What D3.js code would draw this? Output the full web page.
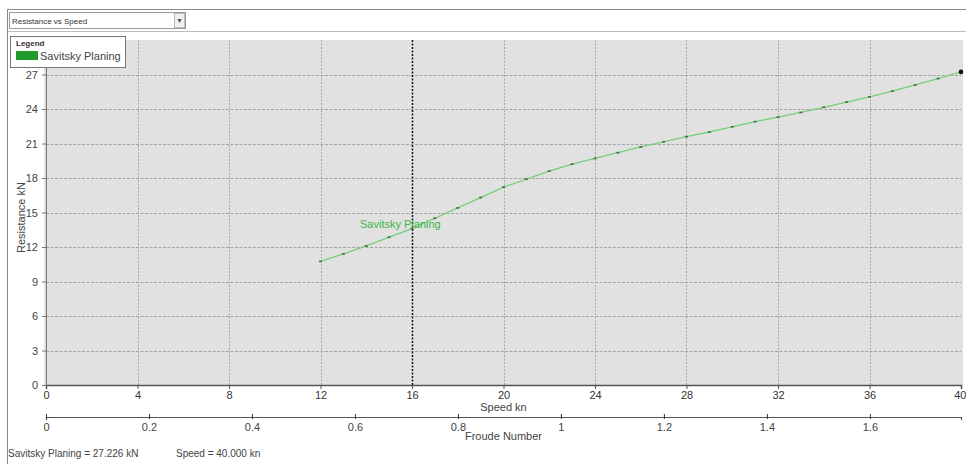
<!DOCTYPE html>
<html><head><meta charset="utf-8">
<script src="https://cdn.jsdelivr.net/npm/d3@7"></script>
<style>
body{margin:0;background:#fff;}
text{font-family:"Liberation Sans",Arial,sans-serif;}
</style></head>
<body><svg id="c" width="966" height="464"></svg>
<script>
const speeds = [12,13,14,15,16,17,18,19,20,21,22,23,24,25,26,27,28,29,30,31,32,33,34,35,36,37,38,39,40];
const resistance = [10.75,11.4,12.1,12.85,13.6,14.5,15.4,16.3,17.2,17.9,18.6,19.2,19.7,20.2,20.7,21.15,21.6,22.0,22.45,22.9,23.3,23.7,24.15,24.6,25.05,25.55,26.1,26.65,27.226];
const xTicks = [0,4,8,12,16,20,24,28,32,36,40];
const yTicks = [0,3,6,9,12,15,18,21,24,27];
const froudeTicks = [0,0.2,0.4,0.6,0.8,1,1.2,1.4,1.6];
const froudeMax = 1.777;
const seriesName = "Savitsky Planing";
const cursorSpeed = 16;

const svg = d3.select("#c");
const L=46, R=961, T=40, B=385;
const x = d3.scaleLinear().domain([0,40]).range([L,R]);
const y = d3.scaleLinear().domain([0,30]).range([B,T]);
const xf = d3.scaleLinear().domain([0,froudeMax]).range([L,R]);

// frame
svg.append("rect").attr("x",7.5).attr("y",9.5).attr("width",965).attr("height",460).attr("fill","#fff").attr("stroke","#888");
svg.append("line").attr("x1",8).attr("x2",966).attr("y1",31.5).attr("y2",31.5).attr("stroke","#bbb");
// dropdown
svg.append("rect").attr("x",9.5).attr("y",12.5).attr("width",176).attr("height",16).attr("fill","#fff").attr("stroke","#999");
svg.append("rect").attr("x",174.5).attr("y",13.5).attr("width",10).attr("height",14).attr("fill","#f0f0f0").attr("stroke","#bbb");
svg.append("text").attr("x",179.5).attr("y",23).attr("font-size",7).attr("text-anchor","middle").attr("fill","#555").text("▼");
svg.append("text").attr("x",12).attr("y",24).attr("font-size",8).attr("fill","#333").text("Resistance vs Speed");

// plot bg
svg.append("rect").attr("x",L-2).attr("y",T).attr("width",R-L+4).attr("height",B-T).attr("fill","#e1e1e1");

// grid
svg.append("g").selectAll("line").data(yTicks.filter(d=>d>0)).join("line")
  .attr("x1",L).attr("x2",R).attr("y1",d=>Math.round(y(d))+0.5).attr("y2",d=>Math.round(y(d))+0.5)
  .attr("stroke","#a4a4a4").attr("stroke-dasharray","3,1.5");
svg.append("g").selectAll("line").data(xTicks.filter(d=>d>0&&d<40)).join("line")
  .attr("x1",d=>Math.round(x(d))+0.5).attr("x2",d=>Math.round(x(d))+0.5).attr("y1",T).attr("y2",B)
  .attr("stroke",d=>d===cursorSpeed?"#111":"#a8a8a8")
  .attr("stroke-width",d=>d===cursorSpeed?1.5:1)
  .attr("stroke-dasharray","2,1.5");

// axes
const xAxis = d3.axisBottom(x).tickValues(xTicks).tickSize(4).tickFormat(d3.format("d"));
const gx = svg.append("g").attr("transform",`translate(0,${B})`).call(xAxis);
gx.select(".domain").attr("stroke","#555").attr("stroke-width",1.5);
gx.selectAll("text").attr("font-size",11).attr("fill","#333").attr("dy","0.6em");
gx.selectAll(".tick").filter(d=>d===40).select("text").attr("text-anchor","end").attr("dx","5");
gx.selectAll(".tick line").attr("stroke","#555");

const yAxis = d3.axisLeft(y).tickValues(yTicks).tickSize(4).tickFormat(d3.format("d"));
const gy = svg.append("g").attr("transform",`translate(${L},0)`).call(yAxis);
gy.select(".domain").attr("stroke","#777");
gy.selectAll("text").attr("font-size",11).attr("fill","#444").attr("dx","-1");
gy.selectAll(".tick line").attr("stroke","#777");

const fAxis = d3.axisBottom(xf).tickValues(froudeTicks).tickSize(3).tickFormat(d=>String(d));
const gf = svg.append("g").attr("transform",`translate(0,417)`).call(fAxis);
gf.select(".domain").attr("stroke","#555").attr("stroke-width",1.2);
gf.selectAll("text").attr("font-size",11).attr("fill","#444");
gf.selectAll(".tick line").attr("stroke","#333").attr("y1",-3).attr("y2",2);

svg.append("text").attr("x",x(20)).attr("y",411).attr("text-anchor","middle").attr("font-size",11).attr("fill","#444").text("Speed kn");
svg.append("text").attr("x",x(20)).attr("y",440).attr("text-anchor","middle").attr("font-size",11).attr("fill","#444").text("Froude Number");
svg.append("text").attr("transform",`translate(25,${(T+B)/2+5}) rotate(-90)`).attr("text-anchor","middle").attr("font-size",11).attr("fill","#444").text("Resistance kN");

// series
const data = speeds.map((s,i)=>({s,r:resistance[i]}));
svg.append("path").datum(data).attr("fill","none").attr("stroke","#74d07a").attr("stroke-width",1.3)
  .attr("d",d3.line().x(d=>x(d.s)).y(d=>y(d.r)));
svg.append("g").selectAll("rect").data(data.slice(0,-1)).join("rect")
  .attr("x",d=>x(d.s)-1.5).attr("y",d=>y(d.r)-0.8).attr("width",3).attr("height",1.6).attr("fill","#4a6a4c");
svg.append("circle").attr("cx",x(speeds[speeds.length-1])).attr("cy",y(resistance[resistance.length-1])).attr("r",2.3).attr("fill","#111");
svg.append("text").attr("x",360).attr("y",228).attr("font-size",11).attr("fill","#3db64a").text(seriesName);

// legend
svg.append("rect").attr("x",10.5).attr("y",36.5).attr("width",115).attr("height",31).attr("fill","#fff").attr("stroke","#777");
svg.append("text").attr("x",16).attr("y",46).attr("font-size",8).attr("font-weight","bold").attr("fill","#333").text("Legend");
svg.append("rect").attr("x",16).attr("y",51).attr("width",22).attr("height",9).attr("fill","#1f9a2c");
svg.append("text").attr("x",40).attr("y",60).attr("font-size",11).attr("fill","#444").text(seriesName);

// status
const last = resistance[resistance.length-1];
svg.append("text").attr("x",8).attr("y",457).attr("font-size",10).attr("fill","#444").text(`${seriesName} = ${last.toFixed(3)} kN`);
svg.append("text").attr("x",176).attr("y",457).attr("font-size",10).attr("fill","#444").text(`Speed = ${speeds[speeds.length-1].toFixed(3)} kn`);
</script></body></html>
